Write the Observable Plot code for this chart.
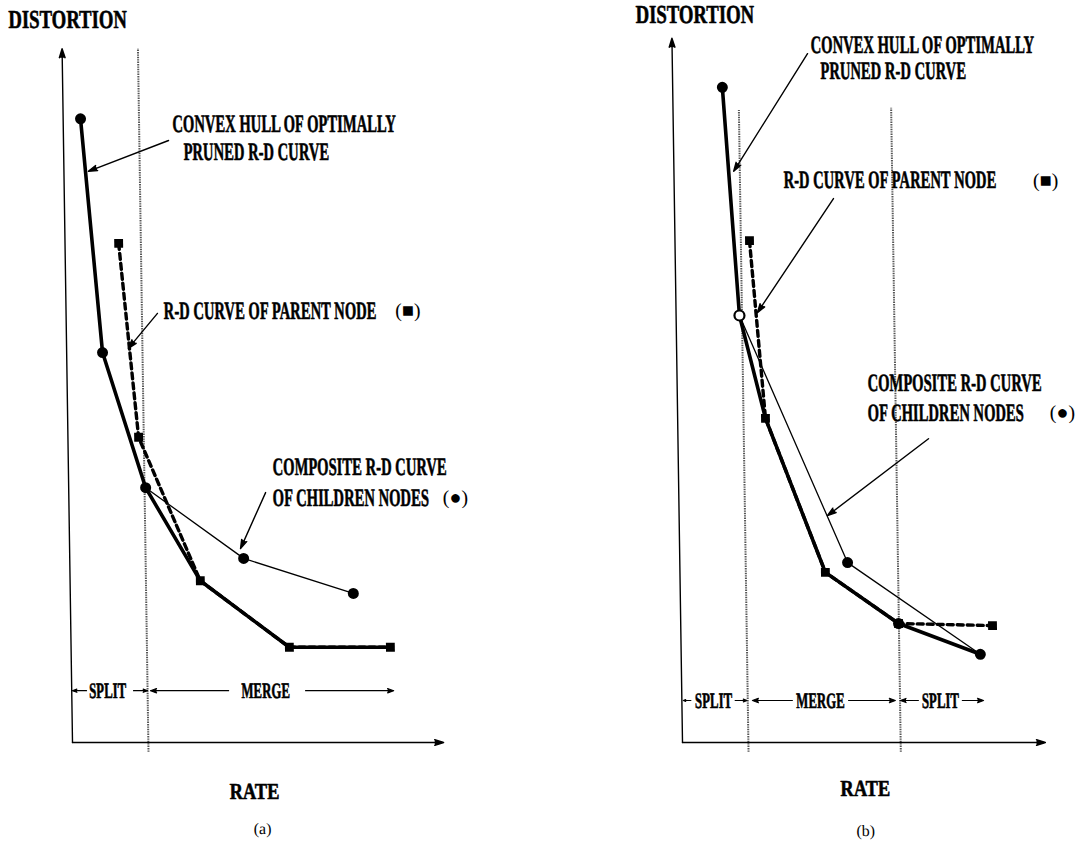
<!DOCTYPE html>
<html>
<head>
<meta charset="utf-8">
<script src="https://cdn.jsdelivr.net/npm/d3@7"></script>
<script src="https://cdn.jsdelivr.net/npm/@observablehq/plot@0.6"></script>
<style>
html,body{margin:0;padding:0;background:#fff;}
#wrap{position:relative;width:1083px;height:843px;overflow:hidden;transform:skewX(0.86deg);transform-origin:0 742px;}
#wrap svg{position:absolute;top:0;}
</style>
</head>
<body>
<div id="wrap"></div>
<script>
// ---------------- Panel (a) values (rate, distortion in arbitrary units) ----------------
const hullA_rate   = [4.7, 9.7, 20.8, 35.2, 59.0, 86.3];
const hullA_dist   = [89.1, 55.7, 36.4, 23.1, 13.6, 13.6];
const parentA_rate = [14.5, 19.1, 35.2, 59.0, 86.3];
const parentA_dist = [71.3, 43.6, 23.1, 13.6, 13.6];
const childA_rate  = [4.7, 9.7, 20.8, 47.0, 76.5];
const childA_dist  = [89.1, 55.7, 36.4, 26.3, 21.3];
const boundaryA_rate = [20.5];

// ---------------- Panel (b) values ----------------
const hullB_rate   = [13.8, 17.6, 24.4, 40.4, 60.5, 83.1];
const hullB_dist   = [93.6, 61.0, 46.3, 24.3, 17.0, 12.6];
const parentB_rate = [20.7, 24.4, 40.4, 60.5, 86.6];
const parentB_dist = [71.7, 46.3, 24.3, 17.0, 16.7];
const childB_rate  = [13.8, 17.6, 46.6, 83.1];
const childB_dist  = [93.6, 61.0, 25.7, 12.6];
const childDotsB_rate = [13.8, 46.6, 60.5, 83.1];
const childDotsB_dist = [93.6, 25.7, 17.0, 12.6];
const openDotB_rate = [17.6];
const openDotB_dist = [61.0];
const boundaryB_rate = [18.3, 60.6];

// ---------------- Texts ----------------
const axisTitleY = "DISTORTION";
const axisTitleX = "RATE";
const panelLabels = ["(a)", "(b)"];
const hullLabel = ["CONVEX HULL OF OPTIMALLY", "PRUNED R-D CURVE"];
const parentLabel = "R-D CURVE OF PARENT NODE";
const childLabel = ["COMPOSITE R-D CURVE", "OF CHILDREN NODES"];
const parentSym = "(■)";
const childSym = "(●)";
const regionsA = ["SPLIT", "MERGE"];
const regionsB = ["SPLIT", "MERGE", "SPLIT"];

// ---------------- helpers ----------------
const zip = (xs, ys) => xs.map((x, i) => ({rate: x, dist: ys[i]}));
const FONT = "'Liberation Serif', 'Times New Roman', serif";
const seg = (x1, y1, x2, y2) => ({x1, y1, x2, y2});
const ink = {fill: "black", stroke: "black", strokeWidth: 0.6};

function panel(cfg) {
  const L = cfg.layout;
  return Plot.plot({
    width: cfg.width, height: 843,
    marginLeft: cfg.mL, marginRight: cfg.mR, marginTop: 42, marginBottom: 101,
    x: {domain: [0, 100], axis: null},
    y: {domain: [0, 100], axis: null},
    style: {fontFamily: FONT, background: "transparent", overflow: "visible", color: "black"},
    marks: [
      // split / merge boundaries
      Plot.ruleX(cfg.bounds.map((r, i) => ({r, top: L.boundTop[i]})),
        {x: "r", y1: -1.4, y2: "top", stroke: "#555", strokeWidth: 2, strokeDasharray: "1.4,1"}),
      // axes
      Plot.arrow([seg(0, 0, 0, L.yEnd), seg(0, 0, L.xEnd, 0)],
        {x1: "x1", y1: "y1", x2: "x2", y2: "y2", stroke: "black", fill: "black",
         strokeWidth: 1.4, headLength: 10, headAngle: 36}),
      // curves
      Plot.line(cfg.parent, {x: "rate", y: "dist", stroke: "black", strokeWidth: 3.4, strokeDasharray: "6,4"}),
      Plot.line(cfg.child, {x: "rate", y: "dist", stroke: "black", strokeWidth: 1.3}),
      Plot.line(cfg.hull, {x: "rate", y: "dist", stroke: "black", strokeWidth: 3.6}),
      // markers
      Plot.dot(cfg.squares, {x: "rate", y: "dist", symbol: "square", r: 5, fill: "black"}),
      Plot.dot(cfg.circles, {x: "rate", y: "dist", r: 5.5, fill: "black"}),
      Plot.dot(cfg.openDots || [], {x: "rate", y: "dist", r: 5, fill: "white", stroke: "black", strokeWidth: 2.2}),
      // annotation arrows
      Plot.arrow(L.arrows, {x1: "x1", y1: "y1", x2: "x2", y2: "y2", stroke: "black", fill: "black",
        strokeWidth: 1.4, headLength: 10, headAngle: 34}),
      Plot.arrow(L.rowArrows, {x1: "x1", y1: "y1", x2: "x2", y2: "y2", stroke: "black", fill: "black",
        strokeWidth: 1.2, headLength: 8, headAngle: 40}),
      // labels
      Plot.text(L.notes, {x: "x", y: "y", text: "text", textAnchor: "start", fontSize: 25,
        fontWeight: "bold", ...ink}),
      Plot.text(L.rowTexts, {x: "x", y: "y", text: "text", textAnchor: "middle", fontSize: 22,
        fontWeight: "bold", ...ink}),
      Plot.text(L.syms, {x: "x", y: "y", text: "text", textAnchor: "middle", fontSize: 20,
        fill: "black"}),
      Plot.text([{x: L.yTitle[0], y: L.yTitle[1], text: axisTitleY}], {x: "x", y: "y", text: "text",
        textAnchor: "start", fontSize: 26, fontWeight: "bold", ...ink}),
      Plot.text([{x: L.xTitle[0], y: L.xTitle[1], text: axisTitleX}], {x: "x", y: "y", text: "text",
        textAnchor: "middle", fontSize: 23, fontWeight: "bold", ...ink}),
      Plot.text([{x: L.tag[0], y: L.tag[1], text: cfg.tag}], {x: "x", y: "y", text: "text",
        textAnchor: "middle", fontSize: 16, fill: "black"})
    ]
  });
}

const layoutA = {
  yEnd: 99.1, xEnd: 100.3, boundTop: [99.1],
  arrows: [seg(28.4, 86.0, 6.6, 81.6), seg(24.7, 61.3, 16.7, 56.3), seg(53.2, 35.7, 46.2, 27.7)],
  notes: [
    {x: 29.5, y: 88.4, text: hullLabel[0]},
    {x: 32.4, y: 84.4, text: hullLabel[1]},
    {x: 26.4, y: 61.7, text: parentLabel},
    {x: 55.2, y: 39.4, text: childLabel[0]},
    {x: 55.1, y: 35.0, text: childLabel[1]}
  ],
  syms: [{x: 92.4, y: 61.7, text: parentSym}, {x: 104.5, y: 35.0, text: childSym}],
  rowTexts: [{x: 9.7, y: 7.4, text: regionsA[0]}, {x: 52.4, y: 7.4, text: regionsA[1]}],
  rowArrows: [seg(4.0, 7.4, 0.2, 7.4), seg(16.7, 7.4, 20.5, 7.4), seg(42.4, 7.4, 21.3, 7.4), seg(63.2, 7.4, 87.0, 7.4)],
  yTitle: [-14.4, 103.3], xTitle: [49.0, -7.0], tag: [51.0, -12.3]
};

const layoutB = {
  yEnd: 100.6, xEnd: 100.8, boundTop: [90.3, 90.6],
  arrows: [seg(37.6, 98.4, 16.6, 81.6), seg(44.2, 77.7, 22.6, 61.4), seg(69.6, 43.4, 41.2, 32.4)],
  notes: [
    {x: 38.5, y: 99.7, text: hullLabel[0]},
    {x: 41.1, y: 96.0, text: hullLabel[1]},
    {x: 30.4, y: 80.3, text: parentLabel},
    {x: 52.9, y: 51.3, text: childLabel[0]},
    {x: 52.8, y: 47.1, text: childLabel[1]}
  ],
  syms: [{x: 103.2, y: 80.3, text: parentSym}, {x: 106.9, y: 47.1, text: childSym}],
  rowTexts: [{x: 8.8, y: 6.0, text: regionsB[0]}, {x: 38.5, y: 6.0, text: regionsB[1]}, {x: 71.8, y: 6.0, text: regionsB[2]}],
  rowArrows: [seg(2.5, 6.0, 0.4, 6.0), seg(14.8, 6.0, 18.1, 6.0), seg(30.7, 6.0, 19.6, 6.0),
              seg(46.3, 6.0, 59.3, 6.0), seg(65.7, 6.0, 60.7, 6.0), seg(77.9, 6.0, 83.8, 6.0)],
  yTitle: [-10.0, 104.0], xTitle: [50.6, -6.6], tag: [50.5, -12.6]
};

const svgA = panel({
  width: 540, mL: 72, mR: 98, tag: panelLabels[0], layout: layoutA, bounds: boundaryA_rate,
  hull: zip(hullA_rate, hullA_dist), parent: zip(parentA_rate, parentA_dist), child: zip(childA_rate, childA_dist),
  squares: zip(parentA_rate, parentA_dist), circles: zip(childA_rate, childA_dist)
});
const svgB = panel({
  width: 543, mL: 142, mR: 41, tag: panelLabels[1], layout: layoutB, bounds: boundaryB_rate,
  hull: zip(hullB_rate, hullB_dist), parent: zip(parentB_rate, parentB_dist), child: zip(childB_rate, childB_dist),
  squares: zip(parentB_rate, parentB_dist), circles: zip(childDotsB_rate, childDotsB_dist),
  openDots: zip(openDotB_rate, openDotB_dist)
});
svgA.style.left = "0px";
svgB.style.left = "540px";
const wrap = document.getElementById("wrap");
wrap.append(svgA, svgB);

// horizontal condensing of the typeset labels (the original uses a narrow bold serif)
const squeezeBySize = {"25": 0.585, "22": 0.585, "26": 0.72, "23": 0.8};
wrap.querySelectorAll("text").forEach(t => {
  const fs = String(Math.round(parseFloat(getComputedStyle(t).fontSize)));
  const k = squeezeBySize[fs];
  if (!k) return;
  const tr = t.getAttribute("transform");
  if (tr) {
    t.setAttribute("transform", tr + ` scale(${k},1)`);
  } else {
    const x = +(t.getAttribute("x") || 0), y = +(t.getAttribute("y") || 0);
    t.removeAttribute("x"); t.removeAttribute("y");
    t.setAttribute("transform", `translate(${x},${y}) scale(${k},1)`);
  }
});
</script>
</body>
</html>
